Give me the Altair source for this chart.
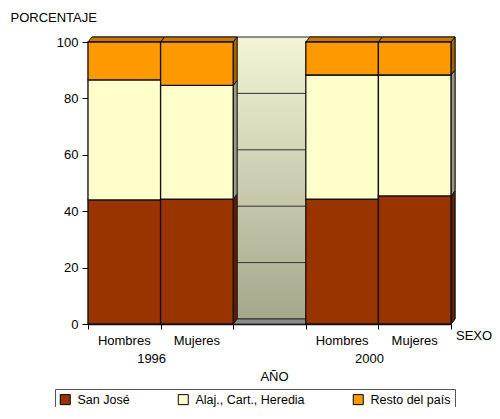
import altair as alt
import pandas as pd

# ---- data ----
anios = ["1996", "1996", "2000", "2000"]
sexos = ["Hombres", "Mujeres", "Hombres", "Mujeres"]
san_jose = [44.0, 44.3, 44.3, 45.4]
alajuela = [42.6, 40.3, 44.0, 42.9]
resto = [13.4, 15.4, 11.7, 11.7]
series = ["San José", "Alaj., Cart., Heredia", "Resto del país"]
y_ticks = [0, 20, 40, 60, 80, 100]

# ---- style ----
FONT = "Liberation Sans"
front_colors = ["#993300", "#FFFFCC", "#FF9900"]
side_colors = ["#5E1F00", "#9A9A80", "#A86400"]
top_color = "#C87800"
W, H = 363, 282
DX_PX, DY_PX = 4, 5

years_order = list(dict.fromkeys(anios))
n_slots = len(years_order) * 3 - 1
DXU = n_slots * DX_PX / W
DYU = 100 * DY_PX / H

values = [san_jose, alajuela, resto]

front_rows, side_rows, top_rows = [], [], []
slots = []
within = {}
for i, (a, s) in enumerate(zip(anios, sexos)):
    g = years_order.index(a)
    k = within.get(a, 0)
    within[a] = k + 1
    p = g * 3 + k
    slots.append(p)
    base = 0.0
    for j, name in enumerate(series):
        v = values[j][i]
        y0, y1 = base, base + v
        base = y1
        front_rows.append(dict(x=p, x2=p + 1, y0=y0, y1=y1, serie=name))
        key = f"{i}-{j}"
        side_rows.append(dict(key=key, x=p + 1, top=y1, bot=y0, col=side_colors[j]))
        side_rows.append(dict(key=key, x=p + 1 + DXU, top=y1 + DYU, bot=y0 + DYU, col=side_colors[j]))
    top = base
    top_rows += [
        dict(key=i, x=p, top=top, bot=top),
        dict(key=i, x=p + DXU, top=top + DYU, bot=top),
        dict(key=i, x=p + 1, top=top + DYU, bot=top),
        dict(key=i, x=p + 1 + DXU, top=top + DYU, bot=top + DYU),
    ]

front = pd.DataFrame(front_rows)
side = pd.DataFrame(side_rows)
topf = pd.DataFrame(top_rows)

xs = alt.Scale(domain=[0, n_slots], nice=False, zero=False)
ys = alt.Scale(domain=[0, 100], nice=False, zero=False)

xaxis = alt.Axis(values=list(range(n_slots + 1)), labels=False, ticks=True,
                 tickSize=5, tickColor="black", domainColor="black",
                 domainWidth=1.3, grid=False, title="AÑO",
                 titleFont=FONT, titleFontSize=13, titleFontWeight="normal",
                 titleColor="black", titleX=186, titleY=56,
                 titleAlign="center", titleBaseline="alphabetic")
yaxis = alt.Axis(values=y_ticks, tickSize=6, tickColor="black",
                 domainColor="black", domainWidth=1.3, grid=False,
                 labelFont=FONT, labelFontSize=13, labelColor="black",
                 labelPadding=4, title="PORCENTAJE", titleAngle=0,
                 titleFont=FONT, titleFontSize=13, titleFontWeight="normal",
                 titleColor="black", titleX=-78, titleY=-21,
                 titleAlign="left", titleBaseline="alphabetic")


def X(f):
    return alt.X(f, scale=xs, axis=xaxis)


def Y(f):
    return alt.Y(f, scale=ys, axis=yaxis)


# back wall
wall_df = pd.DataFrame([dict(x=DXU, x2=n_slots + DXU, y=DYU, y2=100 + DYU)])
wall = alt.Chart(wall_df).mark_rect(
    stroke="#222222", strokeWidth=1,
    fill=alt.Gradient(
        gradient="linear",
        stops=[alt.GradientStop(color="#F4F4D6", offset=0),
               alt.GradientStop(color="#A6A68C", offset=1)],
        x1=0, x2=0, y1=0, y2=1),
).encode(x=X("x:Q"), x2="x2:Q", y=Y("y:Q"), y2="y2:Q")

grid_df = pd.DataFrame([dict(x=DXU, x2=n_slots + DXU, y=t + DYU) for t in y_ticks[1:-1]])
grid = alt.Chart(grid_df).mark_rule(color="#333333", strokeWidth=1).encode(
    x=X("x:Q"), x2="x2:Q", y=Y("y:Q"))

floor_df = pd.DataFrame([
    dict(x=0, top=0, bot=0),
    dict(x=DXU, top=DYU, bot=0),
    dict(x=n_slots, top=DYU, bot=0),
    dict(x=n_slots + DXU, top=DYU, bot=DYU),
])
floor = alt.Chart(floor_df).mark_area(
    orient="vertical", fill="#8A8A8A", fillOpacity=1, stroke="#333333", strokeWidth=1
).encode(x=X("x:Q"), y=Y("top:Q"), y2="bot:Q")

sides = alt.Chart(side).mark_area(
    orient="vertical", fillOpacity=1, stroke="#111111", strokeWidth=1
).encode(
    x=X("x:Q"), y=Y("top:Q"), y2="bot:Q",
    fill=alt.Fill("col:N", scale=None, legend=None),
    detail="key:N",
)

tops = alt.Chart(topf).mark_area(
    orient="vertical", fill=top_color, fillOpacity=1, stroke="#111111", strokeWidth=1
).encode(x=X("x:Q"), y=Y("top:Q"), y2="bot:Q", detail="key:N")

bars = alt.Chart(front).mark_rect(stroke="#111111", strokeWidth=1.3).encode(
    x=X("x:Q"), x2="x2:Q", y=Y("y0:Q"), y2="y1:Q",
    color=alt.Color("serie:N",
                    scale=alt.Scale(domain=series, range=front_colors),
                    sort=series,
                    legend=alt.Legend(
                        title=None, orient="none", direction="horizontal",
                        legendX=-33, legendY=347, padding=4,
                        strokeColor="#555555", fillColor="white",
                        symbolType="square", symbolSize=100,
                        symbolStrokeColor="black", symbolStrokeWidth=1,
                        symbolOpacity=1,
                        labelFont=FONT, labelFontSize=12.5, labelColor="black",
                        labelOffset=6, columnPadding=46)),
)

lab_df = pd.DataFrame(dict(x=[p + 0.5 for p in slots], t=sexos))
sex_labels = alt.Chart(lab_df).mark_text(
    font=FONT, fontSize=13, color="black", baseline="alphabetic", align="center"
).encode(x=X("x:Q"), y=alt.value(303), text="t:N")

year_df = pd.DataFrame(dict(
    x=[years_order.index(a) * 3 + 1 for a in years_order], t=years_order))
year_labels = alt.Chart(year_df).mark_text(
    font=FONT, fontSize=13, color="black", baseline="alphabetic", align="center", dx=-9
).encode(x=X("x:Q"), y=alt.value(321), text="t:N")

sexo = alt.Chart(pd.DataFrame(dict(t=["SEXO"]))).mark_text(
    font=FONT, fontSize=13, color="black", baseline="alphabetic", align="left"
).encode(x=alt.value(368), y=alt.value(298), text="t:N")

chart = alt.layer(
    wall, grid, floor, sides, tops, bars, sex_labels, year_labels, sexo
).properties(
    width=W, height=H,
    autosize="none",
    padding={"left": 80, "top": 34, "right": 41, "bottom": 83},
).configure_view(stroke=None).configure(background="white")

chart.save("out.html", embed_options={"renderer": "svg", "actions": False})
